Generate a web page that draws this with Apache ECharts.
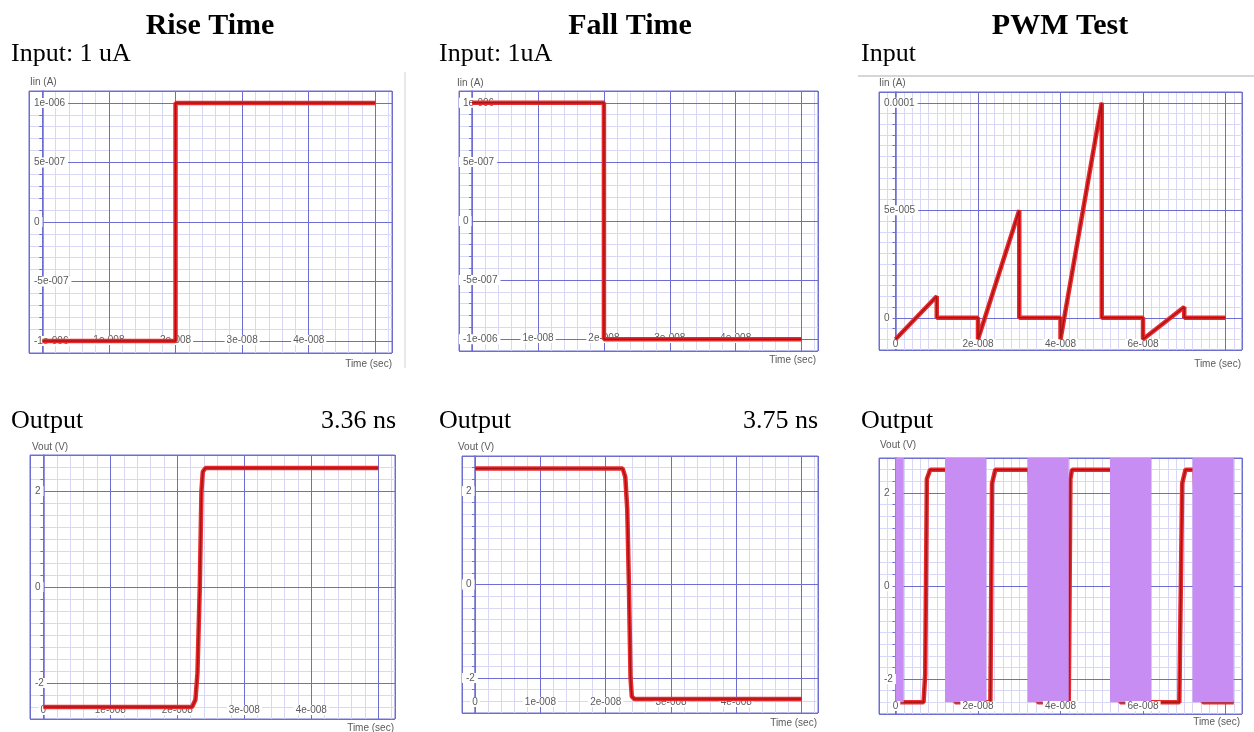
<!DOCTYPE html>
<html>
<head>
<meta charset="utf-8">
<script src="https://cdn.jsdelivr.net/npm/echarts@6/dist/echarts.min.js"></script>
<style>
  html, body { margin: 0; padding: 0; background: #fff; }
  #main { width: 1254px; height: 732px; }
</style>
</head>
<body>
<div id="main"></div>
<script>
// traces: [time (s), value]
var riseIn = [[0, -1e-6], [2e-8, -1e-6], [2e-8, 1e-6], [5e-8, 1e-6]];
var fallIn = [[0, 1e-6], [2e-8, 1e-6], [2e-8, -1e-6], [5e-8, -1e-6]];
var pwmIn = [[0, -1e-5], [1e-8, 1e-5], [1e-8, 0], [2e-8, 0], [2e-8, -1e-5], [3e-8, 5e-5], [3e-8, 0],
  [4e-8, 0], [4e-8, -1e-5], [5e-8, 1e-4], [5e-8, 0], [6e-8, 0], [6e-8, -1e-5], [7e-8, 5e-6], [7e-8, 0], [8e-8, 0]];
var riseOut = [[0, -2.5], [2.22e-8, -2.5], [2.27e-8, -2.35], [2.3e-8, -1.8], [2.335e-8, 0], [2.36e-8, 2.0],
  [2.38e-8, 2.4], [2.42e-8, 2.48], [5e-8, 2.48]];
var fallOut = [[0, 2.48], [2.26e-8, 2.48], [2.3e-8, 2.3], [2.33e-8, 1.6], [2.355e-8, 0], [2.38e-8, -2.0],
  [2.4e-8, -2.4], [2.44e-8, -2.45], [5e-8, -2.45]];
var pwmOut = [[0, -2.5], [0.68e-8, -2.5], [0.72e-8, -1.9], [0.76e-8, 2.3], [0.84e-8, 2.5], [1.25e-8, 2.5],
  [1.45e-8, -2.5], [2.3e-8, -2.5], [2.34e-8, 2.2], [2.42e-8, 2.5], [3.25e-8, 2.5], [3.45e-8, -2.5],
  [4.2e-8, -2.5], [4.24e-8, 2.3], [4.28e-8, 2.5], [5.25e-8, 2.5], [5.45e-8, -2.5], [6.88e-8, -2.5],
  [6.95e-8, 2.2], [7.03e-8, 2.5], [7.25e-8, 2.5], [7.45e-8, -2.5], [8.2e-8, -2.5]];
// purple blocks on the PWM output plot: [start, end] in s, from -2.5 V up
var pwmBands = [[0, 0.2e-8], [1.2e-8, 2.2e-8], [3.2e-8, 4.2e-8], [5.2e-8, 6.2e-8], [7.2e-8, 8.2e-8]];
var pwmBandLow = -2.5;

// tick labels as printed
var stepXTicks = ['1e-008', '2e-008', '3e-008', '4e-008'];
var stepXTicksZero = ['0', '1e-008', '2e-008', '3e-008', '4e-008'];
var pwmXTicks = ['0', '2e-008', '4e-008', '6e-008'];
var currentYTicks = ['1e-006', '5e-007', '0', '-5e-007', '-1e-006'];
var pwmYTicks = ['0.0001', '5e-005', '0'];
var voltYTicks = ['2', '0', '-2'];

var MAJOR = '#6e6ed2';
var MINOR = '#d8d8f6';
var LABEL = '#5a5a5a';

// axis ranges: [min, max, minor step, major step]
var panels = [
  { rect: [29, 91, 363, 262], x: [-2e-9, 5.25e-8, 2e-9, 1e-8], y: [-1.1e-6, 1.1e-6, 1e-7, 5e-7],
    xTicks: stepXTicks, yTicks: currentYTicks, xLab: 13, yLab: 1, data: riseIn },
  { rect: [459, 91, 359, 260], x: [-2e-9, 5.25e-8, 2e-9, 1e-8], y: [-1.1e-6, 1.1e-6, 1e-7, 5e-7],
    xTicks: stepXTicks, yTicks: currentYTicks, xLab: 13, yLab: 0, data: fallIn },
  { rect: [879, 92, 363, 258], x: [-4e-9, 8.4e-8, 2e-9, 2e-8], y: [-1.5e-5, 1.05e-4, 5e-6, 5e-5],
    xTicks: pwmXTicks, yTicks: pwmYTicks, xLab: 6, yLab: 1, data: pwmIn },
  { rect: [30, 455, 365, 264], x: [-2e-9, 5.25e-8, 2e-9, 1e-8], y: [-2.75, 2.75, 0.25, 2],
    xTicks: stepXTicksZero, yTicks: voltYTicks, xLab: 9, yLab: 1, data: riseOut },
  { rect: [462, 456, 356, 257], x: [-2e-9, 5.25e-8, 2e-9, 1e-8], y: [-2.75, 2.75, 0.25, 2],
    xTicks: stepXTicksZero, yTicks: voltYTicks, xLab: 11, yLab: 0, data: fallOut },
  { rect: [879, 458, 363, 256], x: [-4e-9, 8.4e-8, 2e-9, 2e-8], y: [-2.75, 2.75, 0.25, 2],
    xTicks: pwmXTicks, yTicks: voltYTicks, xLab: 8, yLab: 1, data: pwmOut, bands: pwmBands, labelsOnTop: true }
];

function tickFormatter(ticks, step) {
  return function (v) {
    for (var i = 0; i < ticks.length; i++) {
      if (Math.abs(Number(ticks[i]) - v) < step * 1e-6) return '{w|' + ticks[i] + '}';
    }
    return '';
  };
}

function makeAxes(dim, gi, r, ticks, margin, labelZ) {
  var pos = dim === 'x' ? 'bottom' : 'left';
  function base() {
    return {
      type: 'value', gridIndex: gi, position: pos, min: r[0], max: r[1],
      axisLine: { show: false, onZero: false }, axisTick: { show: false },
      axisLabel: { show: false }, splitLine: { show: false }
    };
  }
  var minor = base();
  minor.interval = r[2];
  minor.z = 1;
  minor.splitLine = { show: true, lineStyle: { color: MINOR, width: 1 } };
  if (dim === 'y') {
    minor.axisLine = { show: true, onZero: true, lineStyle: { color: MAJOR, width: 1.5 } };
    minor.axisTick = { show: true, length: 3, lineStyle: { color: MAJOR } };
  }
  var major = base();
  major.minInterval = r[3];
  major.maxInterval = r[3];
  major.z = 2;
  major.splitLine = { show: true, lineStyle: { color: MAJOR, width: 1 } };
  var label = base();
  label.minInterval = r[3];
  label.maxInterval = r[3];
  label.z = labelZ;
  label.axisLabel = {
    show: true, inside: true, margin: margin, color: LABEL, fontSize: 10,
    fontFamily: 'Liberation Sans', showMinLabel: true, showMaxLabel: true,
    formatter: tickFormatter(ticks, r[3]),
    rich: { w: { backgroundColor: '#fff', padding: dim === 'y' ? [0, 3, 0, 4] : [0, 2],
      color: LABEL, fontSize: 10, fontFamily: 'Liberation Sans' } }
  };
  if (dim === 'x') label.axisLabel.verticalAlign = 'middle';
  return [minor, major, label];
}

var option = {
  animation: false,
  backgroundColor: '#fff',
  grid: [], xAxis: [], yAxis: [], series: [], graphic: []
};

panels.forEach(function (p, i) {
  var labelZ = p.labelsOnTop ? 7 : 3;
  option.grid.push({
    left: p.rect[0], top: p.rect[1], width: p.rect[2], height: p.rect[3],
    show: true, backgroundColor: '#fff', borderColor: MAJOR, borderWidth: 1,
    containLabel: false, outerBoundsMode: 'none'
  });
  option.xAxis = option.xAxis.concat(makeAxes('x', i, p.x, p.xTicks, p.xLab, labelZ));
  option.yAxis = option.yAxis.concat(makeAxes('y', i, p.y, p.yTicks, p.yLab, labelZ));
  option.series.push({
    type: 'line', xAxisIndex: 3 * i, yAxisIndex: 3 * i, data: p.data,
    showSymbol: false, symbol: 'none', silent: true, z: 4,
    lineStyle: { color: '#ea2a2c', width: 4.5 }
  });
  option.series.push({
    type: 'line', xAxisIndex: 3 * i, yAxisIndex: 3 * i, data: p.data,
    showSymbol: false, symbol: 'none', silent: true, z: 5,
    lineStyle: { color: '#a81414', width: 1.5 }
  });
  if (p.bands) {
    var top = p.y[1];
    option.series.push({
      type: 'custom', xAxisIndex: 3 * i, yAxisIndex: 3 * i, data: p.bands,
      encode: { x: [0, 1] }, clip: true, silent: true, z: 6,
      renderItem: function (params, api) {
        var a = api.coord([api.value(0), top]);
        var b = api.coord([api.value(1), pwmBandLow]);
        return { type: 'rect', shape: { x: a[0], y: a[1], width: b[0] - a[0], height: b[1] - a[1] },
          style: { fill: '#c88df3' } };
      }
    });
  }
});

function txt(s, x, y, font, align, color) {
  return { type: 'text', silent: true, z: 10, style: {
    text: s, x: x, y: y, font: font, fill: color || '#000',
    align: align, textAlign: align, verticalAlign: 'middle', textVerticalAlign: 'middle' } };
}
var serifBig = 'bold 30px "Liberation Serif"';
var serif = '26px "Liberation Serif"';
var small = '10px "Liberation Sans"';

option.graphic = [
  txt('Rise Time', 210, 26, serifBig, 'center'),
  txt('Fall Time', 630, 26, serifBig, 'center'),
  txt('PWM Test', 1060, 26, serifBig, 'center'),
  txt('Input: 1 uA', 11, 54, serif, 'left'),
  txt('Input: 1uA', 439, 54, serif, 'left'),
  txt('Input', 861, 54, serif, 'left'),
  txt('Output', 11, 421, serif, 'left'),
  txt('Output', 439, 421, serif, 'left'),
  txt('Output', 861, 421, serif, 'left'),
  txt('3.36 ns', 396, 421, serif, 'right'),
  txt('3.75 ns', 818, 421, serif, 'right'),
  txt('Iin (A)', 30, 82, small, 'left', LABEL),
  txt('Iin (A)', 457, 83, small, 'left', LABEL),
  txt('Iin (A)', 879, 83, small, 'left', LABEL),
  txt('Vout (V)', 32, 447, small, 'left', LABEL),
  txt('Vout (V)', 458, 447, small, 'left', LABEL),
  txt('Vout (V)', 880, 445, small, 'left', LABEL),
  txt('Time (sec)', 392, 364, small, 'right', LABEL),
  txt('Time (sec)', 816, 360, small, 'right', LABEL),
  txt('Time (sec)', 1241, 364, small, 'right', LABEL),
  txt('Time (sec)', 394, 728, small, 'right', LABEL),
  txt('Time (sec)', 817, 723, small, 'right', LABEL),
  txt('Time (sec)', 1240, 722, small, 'right', LABEL),
  { type: 'line', silent: true, shape: { x1: 405, y1: 72, x2: 405, y2: 368 }, style: { stroke: '#d2d2d2', lineWidth: 1 } },
  { type: 'line', silent: true, shape: { x1: 858, y1: 76, x2: 1254, y2: 76 }, style: { stroke: '#c8c8c8', lineWidth: 1.5 } }
];

var myChart = echarts.init(document.getElementById('main'));
myChart.setOption(option);
</script>
</body>
</html>
